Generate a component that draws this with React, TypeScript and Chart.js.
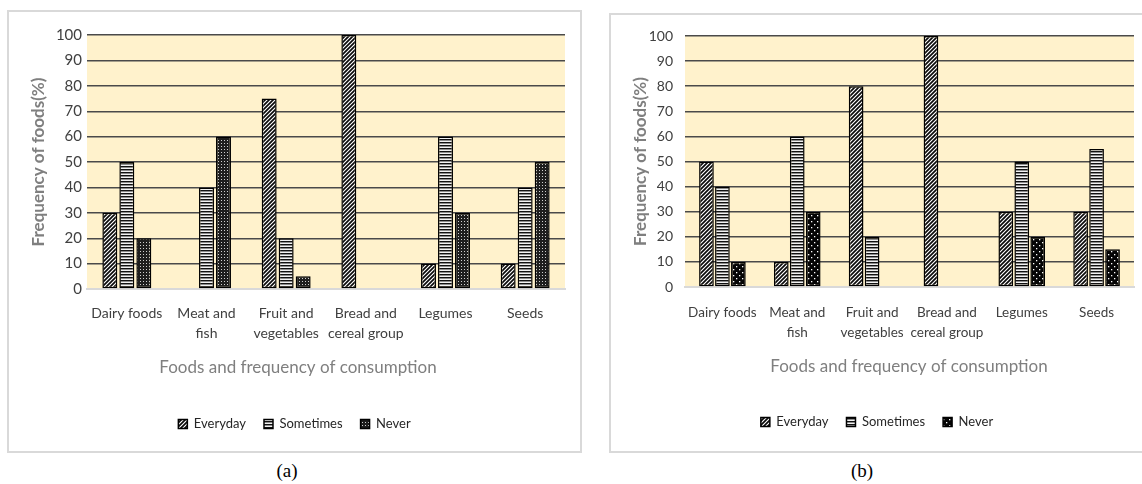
import React, { useEffect, useRef } from "react";
import { Chart, registerables } from "chart.js";
Chart.register(...registerables);

// ---------- data ----------
const categories: string[][] = [
  ["Dairy foods"],
  ["Meat and", "fish"],
  ["Fruit and", "vegetables"],
  ["Bread and", "cereal group"],
  ["Legumes"],
  ["Seeds"],
];
const seriesNames = ["Everyday", "Sometimes", "Never"];
const everydayA = [30, 0, 75, 100, 10, 10];
const sometimesA = [50, 40, 20, 0, 60, 40];
const neverA = [20, 60, 5, 0, 30, 50];
const everydayB = [50, 10, 80, 100, 30, 30];
const sometimesB = [40, 60, 20, 0, 50, 55];
const neverB = [10, 30, 0, 0, 20, 15];
const yMin = 0;
const yMax = 100;
const yStep = 10;
const yAxisTitle = "Frequency of foods(%)";
const xAxisTitle = "Foods and frequency of consumption";
const captions = ["(a)", "(b)"];

// ---------- patterns ----------
function makePattern(w: number, h: number, draw: (c: CanvasRenderingContext2D) => void) {
  const cv = document.createElement("canvas");
  cv.width = w;
  cv.height = h;
  const c = cv.getContext("2d")!;
  draw(c);
  return c.createPattern(cv, "repeat")!;
}
function diagPattern() {
  return makePattern(4, 4, (c) => {
    c.fillStyle = "#ffffff";
    c.fillRect(0, 0, 4, 4);
    c.strokeStyle = "#0a0a0a";
    c.lineWidth = 1.7;
    c.beginPath();
    c.moveTo(-1, 5); c.lineTo(5, -1);
    c.moveTo(-2, 2); c.lineTo(2, -2);
    c.moveTo(2, 6); c.lineTo(6, 2);
    c.stroke();
  });
}
function horizPattern() {
  return makePattern(1, 3, (c) => {
    const rows = ["#111111", "#8c8c8c", "#f2f2f2"];
    rows.forEach((col, i) => { c.fillStyle = col; c.fillRect(0, i, 1, 1); });
  });
}
function neverPatternA() {
  return makePattern(3, 3, (c) => {
    c.fillStyle = "#1e1e1e";
    c.fillRect(0, 0, 3, 3);
    c.fillStyle = "#cfcfcf";
    c.fillRect(1, 1, 1, 1);
  });
}
function neverPatternB() {
  return makePattern(6, 6, (c) => {
    c.fillStyle = "#050505";
    c.fillRect(0, 0, 6, 6);
    c.fillStyle = "#ffffff";
    c.fillRect(1, 1, 1.3, 1.3);
    c.fillRect(4, 4, 1.3, 1.3);
  });
}

type PanelSpec = {
  left: number; top: number; width: number; height: number;
  plotLeft: number; plotTop: number; plotRight: number; plotBottom: number;
  labelPad: number; xAxisH: number; padBottom: number;
  titleX: number; titleDy: number;
  tickFont: number; catFont: number; yTitlePad: number; tickPad: number;
  data: number[][]; neverKind: "a" | "b";
  barPct: number; catPct: number;
};

const FONT = "Lato";

function Panel({ spec }: { spec: PanelSpec }) {
  const ref = useRef<HTMLCanvasElement>(null);
  useEffect(() => {
    const canvas = ref.current!;
    const fills = [diagPattern(), horizPattern(), spec.neverKind === "a" ? neverPatternA() : neverPatternB()];
    const bgPlugin = {
      id: "plotBg",
      beforeDraw(chart: any) {
        const { ctx, chartArea } = chart;
        ctx.save();
        ctx.fillStyle = "#FFF2CC";
        ctx.fillRect(chartArea.left, chartArea.top, chartArea.right - chartArea.left, chartArea.bottom - chartArea.top);
        ctx.restore();
      },
    };
    const xTitlePlugin = {
      id: "xTitle",
      afterDraw(chart: any) {
        const { ctx, chartArea } = chart;
        ctx.save();
        ctx.font = `17px ${FONT}`;
        ctx.fillStyle = "#7f7f7f";
        ctx.textAlign = "center";
        ctx.textBaseline = "middle";
        ctx.fillText(xAxisTitle, spec.titleX, chartArea.bottom + spec.titleDy);
        ctx.restore();
      },
    };
    const chart = new Chart(canvas, {
      type: "bar",
      data: {
        labels: categories,
        datasets: seriesNames.map((name, i) => ({
          label: name,
          data: spec.data[i],
          backgroundColor: fills[i],
          borderColor: "#000000",
          borderWidth: 1.5,
          borderSkipped: false,
          barPercentage: spec.barPct,
          categoryPercentage: spec.catPct,
        })),
      },
      options: {
        responsive: false,
        maintainAspectRatio: false,
        animation: false,
        events: [],
        layout: { padding: { top: spec.plotTop, left: 0, right: 0, bottom: spec.padBottom } },
        plugins: {
          tooltip: { enabled: false },
          legend: {
            position: "bottom",
            labels: {
              boxWidth: 9,
              boxHeight: 9,
              padding: 18,
              color: "#262626",
              font: { family: FONT, size: 13 },
            },
          },
        },
        scales: {
          x: {
            type: "category",
            grid: { display: false, drawTicks: false },
            border: { display: true, color: "#d9d9d9", width: 2 },
            ticks: {
              color: "#404040",
              padding: spec.labelPad,
              maxRotation: 0,
              autoSkip: false,
              font: { family: FONT, size: spec.catFont, lineHeight: 1.45 },
            },
            afterFit: (s: any) => { s.height = spec.xAxisH; },
          },
          y: {
            type: "linear",
            position: "left",
            min: yMin,
            max: yMax,
            grid: {
              drawTicks: false,
              color: (ctx: any) => (ctx.tick && ctx.tick.value === 0 ? "rgba(0,0,0,0)" : "#4a4a4a"),
              lineWidth: 1.4,
            },
            border: { display: false },
            ticks: {
              stepSize: yStep,
              color: "#404040",
              padding: spec.tickPad,
              font: { family: FONT, size: spec.tickFont },
            },
            title: {
              display: true,
              text: yAxisTitle,
              color: "#7f7f7f",
              font: { family: FONT, size: 17, weight: "bold" },
              padding: { top: spec.yTitlePad, bottom: 0 },
            },
            afterFit: (s: any) => { s.width = spec.plotLeft; },
          },
          yRight: {
            type: "linear",
            position: "right",
            display: true,
            grid: { display: false, drawTicks: false },
            border: { display: false },
            ticks: { display: false },
            afterFit: (s: any) => { s.width = spec.width - spec.plotRight; },
          },
        },
      },
      plugins: [bgPlugin, xTitlePlugin],
    } as any);
    return () => chart.destroy();
  }, [spec]);
  return (
    <div style={{ position: "absolute", left: spec.left, top: spec.top, width: spec.width, height: spec.height }}>
      <canvas ref={ref} width={spec.width} height={spec.height} style={{ display: "block", width: spec.width, height: spec.height }} />
      <div style={{ position: "absolute", left: 0, top: 0, width: spec.width, height: spec.height, boxSizing: "border-box", border: "2px solid #d9d9d9", pointerEvents: "none" }} />
    </div>
  );
}

const specA: PanelSpec = {
  left: 7, top: 10, width: 575, height: 443,
  plotLeft: 80, plotTop: 25, plotRight: 558, plotBottom: 279,
  labelPad: 14, xAxisH: 110.5, padBottom: 12.5,
  titleX: 291, titleDy: 79,
  tickFont: 15, catFont: 14, yTitlePad: 21, tickPad: 5,
  data: [everydayA, sometimesA, neverA], neverKind: "a",
  barPct: 0.88, catPct: 0.64,
};
const specB: PanelSpec = {
  left: 609, top: 13, width: 536, height: 440,
  plotLeft: 76, plotTop: 23, plotRight: 525, plotBottom: 274,
  labelPad: 16, xAxisH: 110.5, padBottom: 14.5,
  titleX: 300, titleDy: 80,
  tickFont: 14, catFont: 13.5, yTitlePad: 21, tickPad: 12,
  data: [everydayB, sometimesB, neverB], neverKind: "b",
  barPct: 0.92, catPct: 0.64,
};

export default function App() {
  const capStyle: React.CSSProperties = { position: "absolute", top: 460, width: 60, textAlign: "center", fontFamily: "'Liberation Serif', serif", fontSize: 19, color: "#000", lineHeight: "22px" };
  return (
    <div style={{ position: "absolute", left: 0, top: 0, width: 1142, height: 484, background: "#ffffff", overflow: "hidden" }}>
      <Panel spec={specA} />
      <Panel spec={specB} />
      <div style={{ ...capStyle, left: 287 - 30 }}>{captions[0]}</div>
      <div style={{ ...capStyle, left: 862 - 30 }}>{captions[1]}</div>
    </div>
  );
}
